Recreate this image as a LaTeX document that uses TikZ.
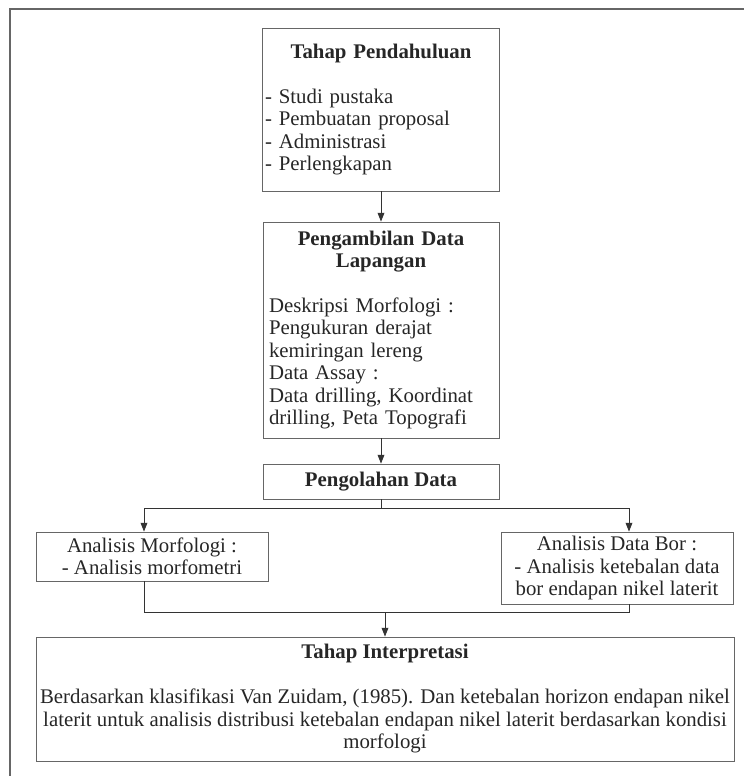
\documentclass[tikz,border=0pt]{standalone}
\usepackage{fontspec}
\setmainfont{Liberation Serif}
\usetikzlibrary{
  arrows.meta,
  positioning,  % relative placement
  calc,         % Calculations $...$
}
\newcommand{\judul}[1]{{\centering\bfseries #1\par}}
\tikzset{
  font=\fontsize{14.8}{16}\selectfont,
  >={Triangle[length=2.2mm,width=1.7mm]},
  my box/.style={
    draw=black!60,
    line width=0.6pt,
    inner sep=0.6mm,
    text=black!85,
    rectangle
  },
  my list/.style={
    my box,
    align=left,
    text width=5.6cm
  },
  my center/.style={
    my box,
    align=center
  },
  my line/.style={
    draw=black!80,
    line width=0.6pt
  },
  my frame/.style={
    draw=black!60,
    line width=0.9pt
  }
}

\begin{document}
\begin{tikzpicture}
\useasboundingbox (0,0) rectangle (18.6,-19.4);
% frame (only top and left sides visible)
\draw[my frame] (18.6,-0.225) -- (0.25,-0.225) -- (0.25,-19.4);

\node[my list, text width=5.8cm, minimum width=5.9cm, minimum height=4.075cm] (pendahuluan) at (9.525,-2.7375)
  {\judul{Tahap Pendahuluan}\vspace{\baselineskip}- Studi pustaka\\- Pembuatan proposal\\- Administrasi\\- Perlengkapan};
\node[my list, minimum width=5.9cm, minimum height=5.4cm] (lapangan) at (9.525,-8.25)
  {\judul{Pengambilan Data\\Lapangan}\vspace{\baselineskip}Deskripsi Morfologi :\\Pengukuran derajat\\kemiringan lereng\\Data Assay :\\Data drilling, Koordinat\\drilling, Peta Topografi};
\node[my center, minimum width=5.9cm, minimum height=0.875cm] (olah) at (9.525,-12.0375)
  {\bfseries Pengolahan Data};
\node[my center, minimum width=5.8cm, minimum height=1.225cm] (morfo) at (3.8,-13.9125)
  {Analisis Morfologi :\\- Analisis morfometri};
\node[my center, minimum width=5.8cm, minimum height=1.8cm] (bor) at (15.425,-14.2)
  {Analisis Data Bor :\\- Analisis ketebalan data\\bor endapan nikel laterit};
\node[my center, minimum width=17.45cm, minimum height=3.1cm] (interpretasi) at (9.625,-17.475)
  {\textbf{Tahap Interpretasi}\\[\baselineskip]Berdasarkan klasifikasi Van Zuidam, (1985). Dan ketebalan horizon endapan nikel\\laterit untuk analisis distribusi ketebalan endapan nikel laterit berdasarkan kondisi\\morfologi};

\coordinate (cabang) at ($(olah.south)+(0,-0.225)$);
\coordinate (gabung) at ($(interpretasi.north)+(0,0.6)$);

\draw[my line,->] (pendahuluan) -- (lapangan);
\draw[my line,->] (lapangan) -- (olah);
\draw[my line] (olah) -- (cabang);
\draw[my line,->] (cabang) -| ($(morfo.north)+(-0.2,0)$);
\draw[my line,->] (cabang) -| ($(bor.north)+(0.3,0)$);
\draw[my line] ($(morfo.south)+(-0.2,0)$) |- (gabung) -| ($(bor.south)+(0.3,0)$);
\draw[my line,->] (gabung) -- (interpretasi);
\end{tikzpicture}
\end{document}
